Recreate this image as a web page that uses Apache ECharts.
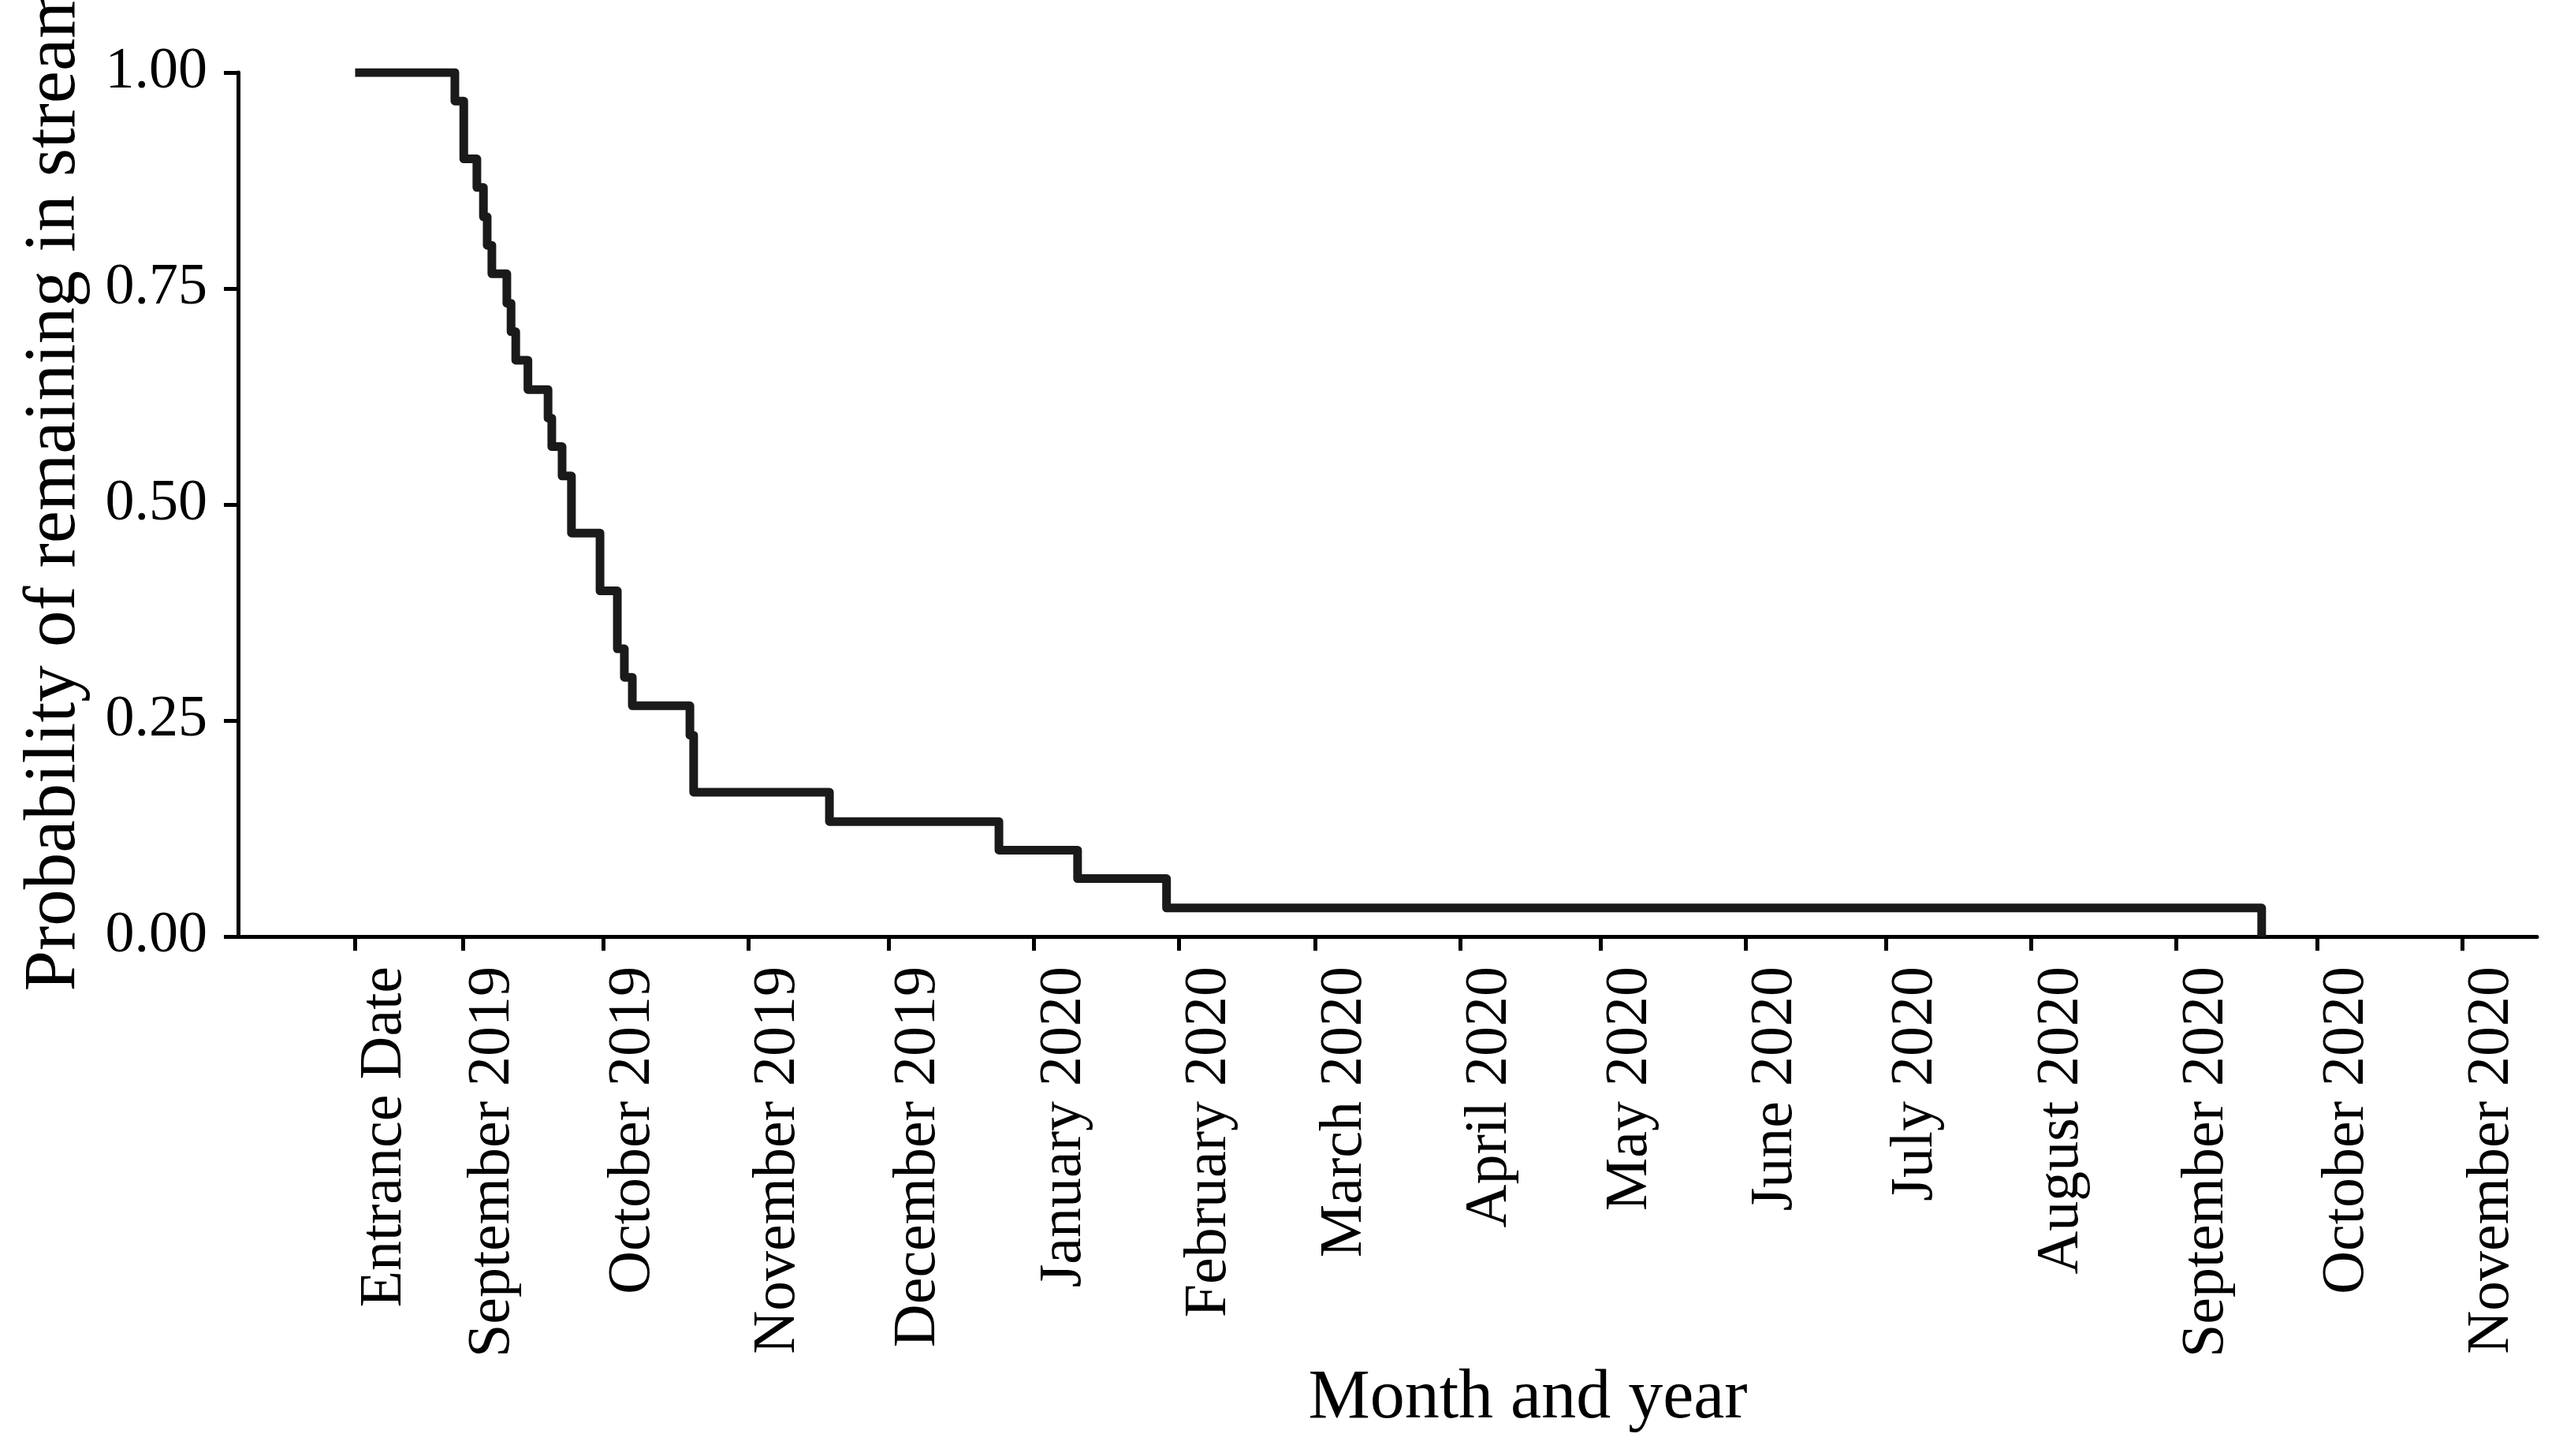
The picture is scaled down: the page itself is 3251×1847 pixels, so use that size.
<!doctype html>
<html lang="en">
<head>
  <meta charset="utf-8" />
  <title>Probability of remaining in stream</title>
  <style>
    html, body { margin:0; padding:0; background:#fff; }
    #chart { width:3251px; height:1847px; }
  </style>
  <script src="https://cdn.jsdelivr.net/npm/echarts@6/dist/echarts.min.js"></script>
</head>
<body>
  <div id="chart"></div>
  <script>
    // x = days since entrance date
    const eventDays = [0, 21.3, 23.2, 26.0, 27.4, 28.2, 29.2, 32.4, 33.3, 34.3, 36.9, 41.2, 42.0, 44.2, 46.2, 52.3, 56.0, 57.5, 59.2, 71.5, 72.3, 101.3, 137.5, 154.3, 173.3, 407.2];
    const survival = [1.000, 0.967, 0.900, 0.867, 0.833, 0.800, 0.767, 0.733, 0.700, 0.667, 0.633, 0.600, 0.567, 0.533, 0.467, 0.400, 0.333, 0.300, 0.267, 0.233, 0.167, 0.133, 0.100, 0.067, 0.033, 0.000];

    // month ticks (days from entrance)
    const tickDays = [0, 23, 53, 84, 114, 145, 176, 205, 236, 266, 297, 327, 358, 389, 419, 450];
    const tickLabels = ['Entrance Date', 'September 2019', 'October 2019', 'November 2019', 'December 2019',
      'January 2020', 'February 2020', 'March 2020', 'April 2020', 'May 2020', 'June 2020', 'July 2020',
      'August 2020', 'September 2020', 'October 2020', 'November 2020'];

    const yTicks = [0, 0.25, 0.5, 0.75, 1];

    const FONT = "'Liberation Serif', 'DejaVu Serif', serif";
    const INK = '#000';

    const chart = echarts.init(document.getElementById('chart'), null, { renderer: 'canvas' });
    chart.setOption({
      backgroundColor: '#fff',
      animation: false,
      grid: { left: 302, right: 33, top: 92, bottom: 659, containLabel: false, outerBoundsMode: 'none' },
      xAxis: {
        type: 'value',
        min: -25,
        max: 466,
        name: 'Month and year',
        nameLocation: 'middle',
        nameGap: 543,
        nameTextStyle: { fontFamily: FONT, fontSize: 88, color: INK, padding: [0, 0, 0, 356] },
        axisLine: { onZero: false, lineStyle: { color: INK, width: 5 } },
        axisTick: { customValues: tickDays, length: 18, lineStyle: { color: INK, width: 5 } },
        axisLabel: {
          customValues: tickDays,
          rotate: 90,
          margin: 38,
          verticalAlign: 'top',
          fontFamily: FONT,
          fontSize: 76,
          color: INK,
          formatter: v => tickLabels[tickDays.indexOf(v)] ?? ''
        },
        splitLine: { show: false }
      },
      yAxis: {
        type: 'value',
        min: 0,
        max: 1,
        interval: 0.25,
        name: 'Probability of remaining in stream',
        nameLocation: 'middle',
        nameRotate: 90,
        nameGap: 186,
        nameTextStyle: { fontFamily: FONT, fontSize: 93, color: INK, padding: [0, 0, 0, 46] },
        axisLine: { show: true, onZero: false, lineStyle: { color: INK, width: 5 } },
        axisTick: { show: true, length: 18, lineStyle: { color: INK, width: 5 } },
        axisLabel: {
          margin: 39,
          fontFamily: FONT,
          fontSize: 74,
          color: INK,
          customValues: yTicks,
          formatter: v => v.toFixed(2)
        },
        splitLine: { show: false }
      },
      series: [{
        type: 'line',
        step: 'end',
        showSymbol: false,
        symbol: 'none',
        lineStyle: { color: '#1a1a1a', width: 11, join: 'round' },
        data: eventDays.map((d, i) => [d, survival[i]])
      }]
    });
  </script>
</body>
</html>
